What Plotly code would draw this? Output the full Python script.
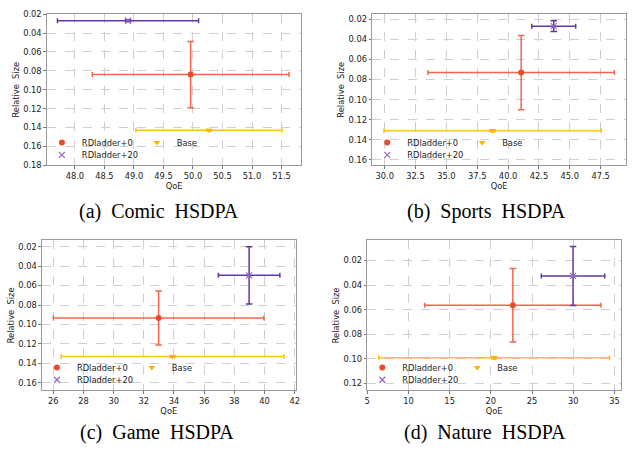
import plotly.graph_objects as go

W, H = 633, 456

# ---------------- data ----------------
panels = ["a", "b", "c", "d"]
captions = ["(a)\u2002Comic\u2002HSDPA", "(b)\u2002Sports\u2002HSDPA",
            "(c)\u2002Game\u2002HSDPA", "(d)\u2002Nature\u2002HSDPA"]

series_names = ["RDladder+0", "Base", "RDladder+20"]

# per panel: [RDladder+0, Base, RDladder+20]
qoe_a = [49.96, 50.27, 48.90]
size_a = [0.084, 0.1428, 0.027]
qoe_err_a = [1.665, 1.235, 1.195]
size_err_a = [0.035, 0.0008, 0.001]

qoe_b = [41.06, 38.74, 43.70]
size_b = [0.0730, 0.1311, 0.0268]
qoe_err_b = [7.56, 8.80, 1.78]
size_err_b = [0.037, 0.001, 0.0054]

qoe_c = [32.98, 33.90, 38.98]
size_c = [0.0934, 0.1329, 0.0495]
qoe_err_c = [6.98, 7.38, 2.04]
size_err_c = [0.0278, 0.001, 0.0295]

qoe_d = [22.67, 20.40, 29.97]
size_d = [0.0563, 0.0990, 0.0325]
qoe_err_d = [10.69, 14.00, 3.85]
size_err_d = [0.0299, 0.001, 0.024]

x_ranges = [[47.525, 51.835], [28.985, 49.56], [25.24, 42.07], [5.0, 35.8]]
y_ranges = [[0.18, 0.02], [0.1655, 0.0148], [0.1677, 0.0136], [0.1256, 0.0036]]
x_tick0 = [48.0, 30.0, 26, 5]
x_dtick = [0.5, 2.5, 2, 5]
x_fmt = [".1f", ".1f", "d", "d"]

# ---------------- layout (pixel boxes) ----------------
boxes = [  # left, right, top, bottom in px
    (44.3, 301.7, 9.3, 164.0),
    (373.3, 630.0, 9.3, 164.0),
    (39.3, 296.0, 240.7, 394.0),
    (368.3, 625.0, 240.7, 394.0),
]
caption_pos = [(158, 211), (489, 211), (156, 437), (487, 437)]

marker_col = ["#F04A2A", "#FFB300", "#9467BD"]
err_col = ["rgba(240,75,45,0.85)", "#FFC21A", "#6237A8"]
symbols = ["circle", "triangle-down", "x-thin"]

data = [
    (qoe_a, size_a, qoe_err_a, size_err_a),
    (qoe_b, size_b, qoe_err_b, size_err_b),
    (qoe_c, size_c, qoe_err_c, size_err_c),
    (qoe_d, size_d, qoe_err_d, size_err_d),
]

fig = go.Figure()
layout = dict(
    width=W, height=H, margin=dict(l=0, r=0, t=0, b=0),
    paper_bgcolor="white", plot_bgcolor="white", showlegend=True,
    font=dict(family="DejaVu Sans", size=8, color="#222"),
    annotations=[],
)

legend_idx = 0
for p in range(4):
    xs, ys, exs, eys = data[p]
    l, r, t, b = boxes[p]
    xa = "x" if p == 0 else f"x{p+1}"
    ya = "y" if p == 0 else f"y{p+1}"
    for s in range(3):
        legend_idx += 1
        lg = "legend" if legend_idx == 1 else f"legend{legend_idx}"
        if s == 2:
            mk = dict(symbol=symbols[s], size=6, color=marker_col[s],
                      line=dict(width=1.2, color=marker_col[s]))
        else:
            mk = dict(symbol=symbols[s], size=6, color=marker_col[s],
                      line=dict(width=0))
        fig.add_trace(go.Scatter(
            x=[xs[s]], y=[ys[s]], mode="markers", name=series_names[s],
            marker=mk, xaxis=xa, yaxis=ya, legend=lg, showlegend=True,
            error_x=dict(type="data", array=[exs[s]], color=err_col[s],
                         thickness=1.5, width=2.5),
            error_y=dict(type="data", array=[eys[s]], color=err_col[s],
                         thickness=1.5, width=3.3),
        ))
        # legend placement: row 1 -> RDladder+0, Base ; row 2 -> RDladder+20
        mx = l + (15.0 if s != 1 else 111.0)
        my = b - (23.5 if s != 2 else 10.8)
        layout[lg] = dict(
            x=(mx - 20) / W, y=1 - my / H, xanchor="left", yanchor="middle",
            bgcolor="rgba(0,0,0,0)", borderwidth=0,
            font=dict(family="DejaVu Sans", size=8.3, color="#222"),
        )
    axcommon = dict(showline=True, mirror=True, linecolor="#9a9a9a", linewidth=1,
                    showgrid=True, gridcolor="#cfcfcf", griddash="dash", gridwidth=0.8,
                    ticks="outside", ticklen=2.5, tickcolor="#777", tickwidth=0.8,
                    tickfont=dict(family="DejaVu Sans", size=8.3, color="#222"),
                    zeroline=False)
    xkey = "xaxis" if p == 0 else f"xaxis{p+1}"
    ykey = "yaxis" if p == 0 else f"yaxis{p+1}"
    layout[xkey] = dict(axcommon, domain=[l / W, r / W], anchor=ya,
                        range=x_ranges[p], tick0=x_tick0[p], dtick=x_dtick[p],
                        tickformat=x_fmt[p],
                        title=dict(text="QoE", standoff=0,
                                   font=dict(family="DejaVu Sans", size=8.3, color="#222")))
    layout[ykey] = dict(axcommon, domain=[1 - b / H, 1 - t / H], anchor=xa,
                        range=y_ranges[p], tick0=0, dtick=0.02, tickformat=".2f",
                        title=dict(text="Relative\u00a0\u00a0Size", standoff=2,
                                   font=dict(family="DejaVu Sans", size=8.3, color="#222")))
    cx, cy = caption_pos[p]
    layout["annotations"].append(dict(
        text=captions[p], x=cx / W, y=1 - cy / H, xref="paper", yref="paper",
        xanchor="center", yanchor="middle", showarrow=False,
        font=dict(family="Liberation Serif", size=20, color="black")))

fig.update_layout(**layout)
fig.write_html("out.html", config={"displayModeBar": False},
               post_script="document.body.style.margin='0';")
